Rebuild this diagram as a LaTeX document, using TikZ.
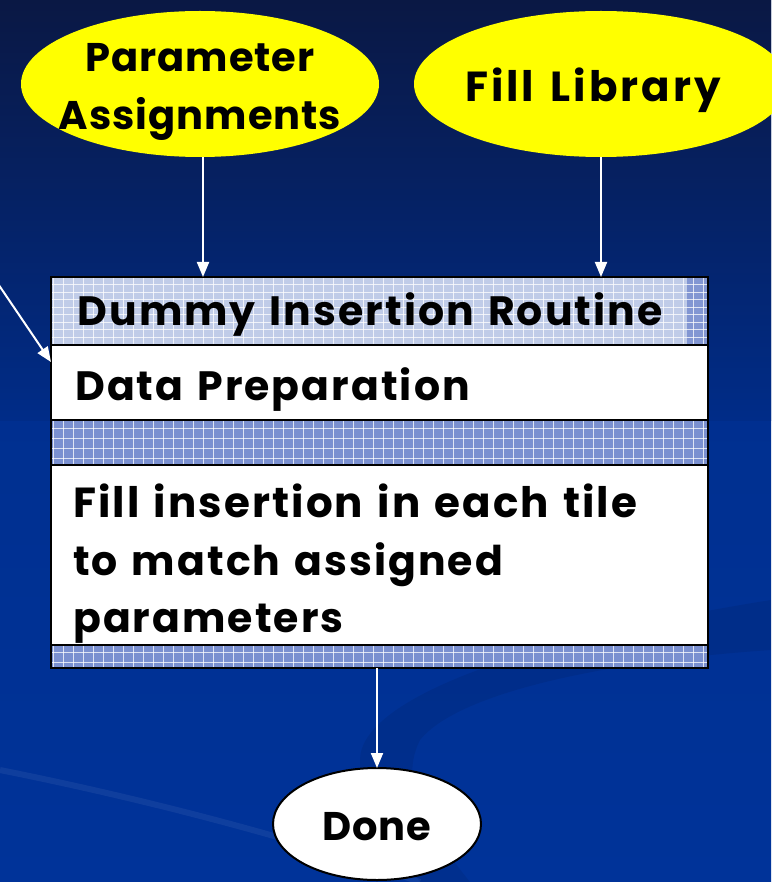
\documentclass[tikz,border=0pt]{standalone}
\usepackage{fontspec}
\setmainfont{Poppins}
\newfontfamily\widefont[LetterSpace=5,WordSpace=1.3]{Poppins}
\newfontfamily\ovalfont[LetterSpace=2.5]{Poppins}
\newfontfamily\libfont[LetterSpace=7,WordSpace=1.4]{Poppins}
\usetikzlibrary{shapes.geometric,arrows.meta}

\definecolor{bgtop}{RGB}{10,24,68}
\definecolor{bgmid}{RGB}{0,44,136}
\definecolor{bgbot}{RGB}{0,51,153}
\definecolor{ovalyellow}{RGB}{255,255,0}
\definecolor{gridlight}{RGB}{192,204,232}
\definecolor{griddark}{RGB}{122,144,208}
\definecolor{hdrstrip}{RGB}{130,150,210}

\tikzset{
  oval/.style={ellipse, inner sep=0pt, outer sep=0pt},
  ovaltext/.style={inner sep=0pt, text=black, font=\ovalfont\fontsize{40}{58}\selectfont\bfseries},
  band/.style={rectangle, inner sep=0pt, outer sep=0pt, minimum width=657pt},
  lbl/.style={inner sep=0pt, font=\widefont\fontsize{41}{46}\selectfont\bfseries, text=black},
  arr/.style={white, line width=2pt, -{Triangle[width=12pt,length=15pt]}},
  gridline/.style={white, line width=0.9pt, opacity=0.75},
  frame/.style={black, line width=2pt}
}

\begin{document}
\begin{tikzpicture}[x=1pt,y=-1pt]
\useasboundingbox (0,0) rectangle (771,882);

% background gradient and soft swooshes
\shade[top color=bgmid, bottom color=bgbot] (0,0) rectangle (771,882);
\shade[top color=bgtop, bottom color=bgmid] (0,0) rectangle (771,420);
\fill[black, opacity=0.07] (771,600) .. controls (520,640) and (360,700) .. (360,760)
  .. controls (360,800) and (390,840) .. (420,882) -- (470,882)
  .. controls (420,820) and (400,780) .. (420,740)
  .. controls (460,690) and (620,660) .. (771,650) -- cycle;
\draw[white, opacity=0.06, line width=6pt] (0,770) .. controls (150,800) and (300,840) .. (420,882);

% yellow input ovals
\node[oval, fill=ovalyellow, minimum width=358pt, minimum height=146pt] (pa) at (200,84) {};
\node[ovaltext, anchor=base] (pa1) at (200,72) {Parameter};
\node[ovaltext, anchor=base] (pa2) at (200,130) {Assignments};
\node[oval, fill=ovalyellow, minimum width=374pt, minimum height=146pt] (fl) at (601,84) {};
\node[ovaltext, anchor=base, font=\libfont\fontsize{42}{50}\selectfont\bfseries] (fltxt) at (593,102) {Fill Library};

% routine box sections
\node[band, fill=gridlight, minimum height=68pt] (hdr) at (379.5,311) {};
\node[band, fill=white, minimum height=75pt] (dp) at (379.5,382.5) {};
\node[band, fill=griddark, minimum height=45pt] (mid) at (379.5,442.5) {};
\node[band, fill=white, minimum height=180pt] (fs) at (379.5,555) {};
\node[band, fill=griddark, minimum height=23pt] (foot) at (379.5,656.5) {};
\fill[hdrstrip] (687,277) rectangle (708,345);

% grid texture on the shaded bands
\foreach \x in {53.5,63.5,...,704} {
  \draw[gridline] (\x,277) -- (\x,345);
  \draw[gridline] (\x,420) -- (\x,465);
  \draw[gridline] (\x,645) -- (\x,668);
}
\foreach \y in {284.5,292,...,344} \draw[gridline] (51,\y) -- (708,\y);
\foreach \y in {428,438,...,464} \draw[gridline] (51,\y) -- (708,\y);
\foreach \y in {652,662} \draw[gridline] (51,\y) -- (708,\y);

% frame and separators
\draw[frame] (hdr.north west) rectangle (foot.south east);
\draw[frame] (dp.north west) -- (dp.north east);
\draw[frame] (dp.south west) -- (dp.south east);
\draw[frame] (fs.north west) -- (fs.north east);
\draw[frame] (fs.south west) -- (fs.south east);

% texts in the box
\node[lbl, anchor=base] (hdrtxt) at (370,325) {Dummy Insertion Routine};
\node[lbl, anchor=base west] (dptxt) at (75,400) {Data Preparation};
\node[lbl, anchor=base west, font=\widefont\fontsize{42}{46}\selectfont\bfseries] (fs1) at (73,517) {Fill insertion in each tile};
\node[lbl, anchor=base west] (fs2) at (73,575) {to match assigned};
\node[lbl, anchor=base west] (fs3) at (73,632) {parameters};

% end oval
\node[oval, fill=white, draw=black, line width=2pt, minimum width=208pt, minimum height=112pt] (done) at (377,824) {};
\node[ovaltext, anchor=base] (donetxt) at (377,840) {Done};

% connectors
\coordinate (lsrc) at (-10,272);
\coordinate (ltip) at ([yshift=-17pt]dp.north west);
\draw[arr] ([xshift=3pt]pa.south) -- ([xshift=3pt]pa.south |- hdr.north);
\draw[arr] (fl.south) -- (fl.south |- hdr.north);
\draw[arr] (lsrc) -- (ltip);
\draw[arr] (done.north |- foot.south) -- (done.north);
\end{tikzpicture}
\end{document}
